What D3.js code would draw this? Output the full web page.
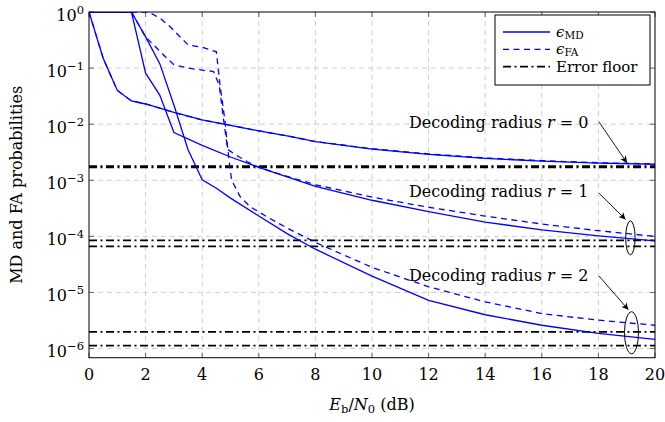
<!DOCTYPE html>
<html>
<head>
<meta charset="utf-8">
<script src="https://cdn.jsdelivr.net/npm/d3@7"></script>
<style>
body { margin: 0; background: #fff; }
text { font-family: "DejaVu Serif", serif; fill: #000; }
</style>
</head>
<body>
<script>
// Eb/N0 grid (dB) and probabilities
var snr_r0 = [0, 0.5, 1, 1.5, 2, 3, 4, 5, 6, 7, 8, 10, 12, 14, 16, 18, 20];
var md_r0 = [1, 0.15, 0.04, 0.026, 0.0229, 0.0162, 0.0119, 0.00955, 0.0076, 0.0062, 0.0049, 0.0036, 0.0029, 0.00245, 0.0022, 0.00202, 0.00193];
var fa_r0 = [1, 0.15, 0.04, 0.026, 0.0229, 0.0162, 0.0119, 0.00955, 0.0076, 0.0062, 0.0049, 0.00365, 0.00295, 0.0025, 0.00224, 0.00205, 0.00196];

var snr_md_r1 = [0, 1.5, 2, 2.5, 3, 4, 5, 6, 7, 8, 10, 12, 14, 16, 18, 20];
var md_r1 = [1, 1, 0.081, 0.033, 0.0071, 0.0042, 0.0026, 0.0017, 0.00115, 7.8e-4, 4.4e-4, 2.75e-4, 1.8e-4, 1.3e-4, 1.02e-4, 8.3e-5];
var snr_fa_r1 = [0, 1.5, 2, 2.75, 3, 3.5, 4, 4.4, 4.6, 4.75, 4.9, 5.2, 5.6, 6, 7, 8, 10, 12, 14, 16, 18, 20];
var fa_r1 = [1, 1, 0.36, 0.15, 0.115, 0.1, 0.092, 0.087, 0.05, 0.0126, 0.00355, 0.0028, 0.00214, 0.0017, 0.00117, 8.3e-4, 5.0e-4, 3.3e-4, 2.3e-4, 1.66e-4, 1.26e-4, 1.0e-4];

var snr_md_r2 = [0, 1.5, 2, 2.5, 3, 3.5, 4, 4.5, 5, 6, 7, 8, 10, 12, 14, 16, 18, 20];
var md_r2 = [1, 1, 0.36, 0.12, 0.022, 0.0035, 0.00102, 7.2e-4, 4.8e-4, 2.3e-4, 1.12e-4, 5.9e-5, 1.95e-5, 7.2e-6, 4.0e-6, 2.6e-6, 1.86e-6, 1.46e-6];
var snr_fa_r2 = [0, 2.1, 2.5, 2.86, 3.27, 3.5, 4, 4.5, 4.63, 4.8, 4.92, 5.04, 5.34, 5.69, 6.28, 7, 8, 10, 12, 14, 16, 18, 20];
var fa_r2 = [1, 1, 0.78, 0.55, 0.34, 0.26, 0.235, 0.195, 0.05, 0.0119, 0.003, 0.001, 5.1e-4, 3.4e-4, 2.24e-4, 1.41e-4, 7.8e-5, 2.8e-5, 1.26e-5, 6.8e-6, 4.2e-6, 3.2e-6, 2.6e-6];

// error floors (two per decoding radius)
var floors = [1.78e-3, 1.7e-3, 8.45e-5, 6.6e-5, 1.98e-6, 1.13e-6];

var xTicks = [0, 2, 4, 6, 8, 10, 12, 14, 16, 18, 20];
var yExps = [0, -1, -2, -3, -4, -5, -6];

// annotations: text anchor, arrow and ellipse in data coords
var notes = [
    { r: 0, tx: 17.65, ty: 0.0111, a: [18.02, 0.011, 19.01, 2.04e-3], e: null },
    { r: 1, tx: 17.65, ty: 6.5e-4, a: [18.02, 5.9e-4, 18.96, 2.0e-4], e: [19.13, 9.4e-5, 4.7, 17] },
    { r: 2, tx: 17.65, ty: 2.05e-5, a: [18.02, 1.97e-5, 19.06, 4.9e-6], e: [19.17, 1.91e-6, 7, 21] }
];

var W = 665, H = 422;
var pL = 89, pR = 655, pT = 12, pB = 357.7;
var fs = 16, fsSmall = 11.5;

var svg = d3.select("body").append("svg")
    .attr("width", W)
    .attr("height", H);

var x = d3.scaleLinear().domain([0, 20]).range([pL, pR]);
var y = d3.scaleLog().domain([6.86e-7, 1]).range([pB, pT]);

var defs = svg.append("defs");
defs.append("clipPath").attr("id", "clip")
    .append("rect")
    .attr("x", pL).attr("y", pT)
    .attr("width", pR - pL).attr("height", pB - pT);

var arrow = defs.append("marker")
    .attr("id", "arr")
    .attr("viewBox", "0 0 10 10")
    .attr("refX", 10).attr("refY", 5)
    .attr("markerWidth", 7).attr("markerHeight", 7)
    .attr("markerUnits", "userSpaceOnUse")
    .attr("orient", "auto");
arrow.append("path").attr("d", "M0,0 L10,5 L0,10 L3,5 Z").attr("fill", "#000");

// grid
var grid = svg.append("g");
grid.selectAll("line.gx")
    .data(xTicks.slice(1, -1))
    .enter().append("line")
    .attr("x1", function(d) { return x(d); })
    .attr("x2", function(d) { return x(d); })
    .attr("y1", pT).attr("y2", pB)
    .attr("stroke", "#cfcfcf").attr("stroke-width", 1)
    .attr("stroke-dasharray", "5,4");
grid.selectAll("line.gy")
    .data(yExps.slice(1))
    .enter().append("line")
    .attr("x1", pL).attr("x2", pR)
    .attr("y1", function(d) { return y(Math.pow(10, d)); })
    .attr("y2", function(d) { return y(Math.pow(10, d)); })
    .attr("stroke", "#cfcfcf").attr("stroke-width", 1)
    .attr("stroke-dasharray", "5,4");

// ticks (inside, on all four sides)
var ticks = svg.append("g").attr("stroke", "#666").attr("stroke-width", 1);
xTicks.forEach(function(t) {
    ticks.append("line").attr("x1", x(t)).attr("x2", x(t)).attr("y1", pB).attr("y2", pB - 5);
    ticks.append("line").attr("x1", x(t)).attr("x2", x(t)).attr("y1", pT).attr("y2", pT + 5);
});
yExps.forEach(function(e) {
    var yy = y(Math.pow(10, e));
    ticks.append("line").attr("x1", pL).attr("x2", pL + 5).attr("y1", yy).attr("y2", yy);
    ticks.append("line").attr("x1", pR).attr("x2", pR - 5).attr("y1", yy).attr("y2", yy);
});

var plot = svg.append("g").attr("clip-path", "url(#clip)");

// error floors
plot.selectAll("line.floor")
    .data(floors)
    .enter().append("line")
    .attr("x1", x(0)).attr("x2", x(20))
    .attr("y1", function(d) { return y(d); })
    .attr("y2", function(d) { return y(d); })
    .attr("stroke", "#000").attr("stroke-width", 1.7)
    .attr("stroke-dasharray", "8,3.5,2,3.5");

var line = d3.line()
    .x(function(d) { return x(d[0]); })
    .y(function(d) { return y(d[1]); });

var curves = [
    [snr_r0, md_r0, null], [snr_r0, fa_r0, "6,4.5"],
    [snr_md_r1, md_r1, null], [snr_fa_r1, fa_r1, "6,4.5"],
    [snr_md_r2, md_r2, null], [snr_fa_r2, fa_r2, "6,4.5"]
];
curves.forEach(function(c) {
    plot.append("path")
        .datum(d3.zip(c[0], c[1]))
        .attr("d", line)
        .attr("fill", "none")
        .attr("stroke", "#0000ff")
        .attr("stroke-width", 1.3)
        .attr("stroke-dasharray", c[2]);
});

// frame
svg.append("rect")
    .attr("x", pL).attr("y", pT)
    .attr("width", pR - pL).attr("height", pB - pT)
    .attr("fill", "none").attr("stroke", "#000").attr("stroke-width", 1);

// tick labels
svg.selectAll("text.xt")
    .data(xTicks)
    .enter().append("text")
    .attr("x", function(d) { return x(d); })
    .attr("y", pB + 22)
    .attr("text-anchor", "middle")
    .attr("font-size", fs)
    .text(function(d) { return d; });

var yl = svg.selectAll("text.yt")
    .data(yExps)
    .enter().append("text")
    .attr("x", pL - 5)
    .attr("y", function(d) { return y(Math.pow(10, d)) + 8.5; })
    .attr("text-anchor", "end")
    .attr("font-size", fs);
yl.append("tspan").text("10");
yl.append("tspan")
    .attr("dy", -7)
    .attr("font-size", fsSmall)
    .text(function(d) { return d === 0 ? "0" : "\u2212" + (-d); });

// axis labels
var xl = svg.append("text")
    .attr("x", (pL + pR) / 2)
    .attr("y", 410)
    .attr("text-anchor", "middle")
    .attr("font-size", fs);
xl.append("tspan").attr("font-style", "italic").text("E");
xl.append("tspan").attr("font-size", fsSmall).attr("dy", 3).text("b");
xl.append("tspan").attr("dy", -3).text("/");
xl.append("tspan").attr("font-style", "italic").text("N");
xl.append("tspan").attr("font-size", fsSmall).attr("dy", 3).text("0");
xl.append("tspan").attr("dy", -3).text(" (dB)");

svg.append("text")
    .attr("transform", "translate(22," + ((pT + pB) / 2) + ") rotate(-90)")
    .attr("text-anchor", "middle")
    .attr("font-size", fs)
    .text("MD and FA probabilities");

// annotations
notes.forEach(function(n) {
    var t = svg.append("text")
        .attr("x", x(n.tx))
        .attr("y", y(n.ty) + 6)
        .attr("text-anchor", "end")
        .attr("font-size", fs);
    t.append("tspan").text("Decoding radius ");
    t.append("tspan").attr("font-style", "italic").text("r");
    t.append("tspan").text(" = " + n.r);
    svg.append("line")
        .attr("x1", x(n.a[0])).attr("y1", y(n.a[1]))
        .attr("x2", x(n.a[2])).attr("y2", y(n.a[3]))
        .attr("stroke", "#000").attr("stroke-width", 0.9)
        .attr("marker-end", "url(#arr)");
    if (n.e) {
        svg.append("ellipse")
            .attr("cx", x(n.e[0])).attr("cy", y(n.e[1]))
            .attr("rx", n.e[2]).attr("ry", n.e[3])
            .attr("fill", "none").attr("stroke", "#000").attr("stroke-width", 1);
    }
});

// legend
var lg = svg.append("g");
lg.append("rect")
    .attr("x", 495).attr("y", 15).attr("width", 155).attr("height", 70)
    .attr("fill", "#fff").attr("stroke", "#000").attr("stroke-width", 1);
var items = [
    { sub: "MD", color: "#0000ff", dash: null, w: 1.3 },
    { sub: "FA", color: "#0000ff", dash: "6,4.5", w: 1.3 },
    { label: "Error floor", color: "#000", dash: "8,3.5,2,3.5", w: 1.7 }
];
items.forEach(function(it, i) {
    var yy = 32 + i * 17.3;
    lg.append("line")
        .attr("x1", 503).attr("x2", 550)
        .attr("y1", yy).attr("y2", yy)
        .attr("stroke", it.color).attr("stroke-width", it.w)
        .attr("stroke-dasharray", it.dash);
    var t = lg.append("text").attr("x", 556).attr("y", yy + 5).attr("font-size", 15);
    if (it.sub) {
        t.append("tspan").attr("font-style", "italic").text("\u03f5");
        t.append("tspan").attr("font-size", 10.5).attr("dy", 2).text(it.sub);
    } else {
        t.text(it.label);
    }
});
</script>
</body>
</html>
